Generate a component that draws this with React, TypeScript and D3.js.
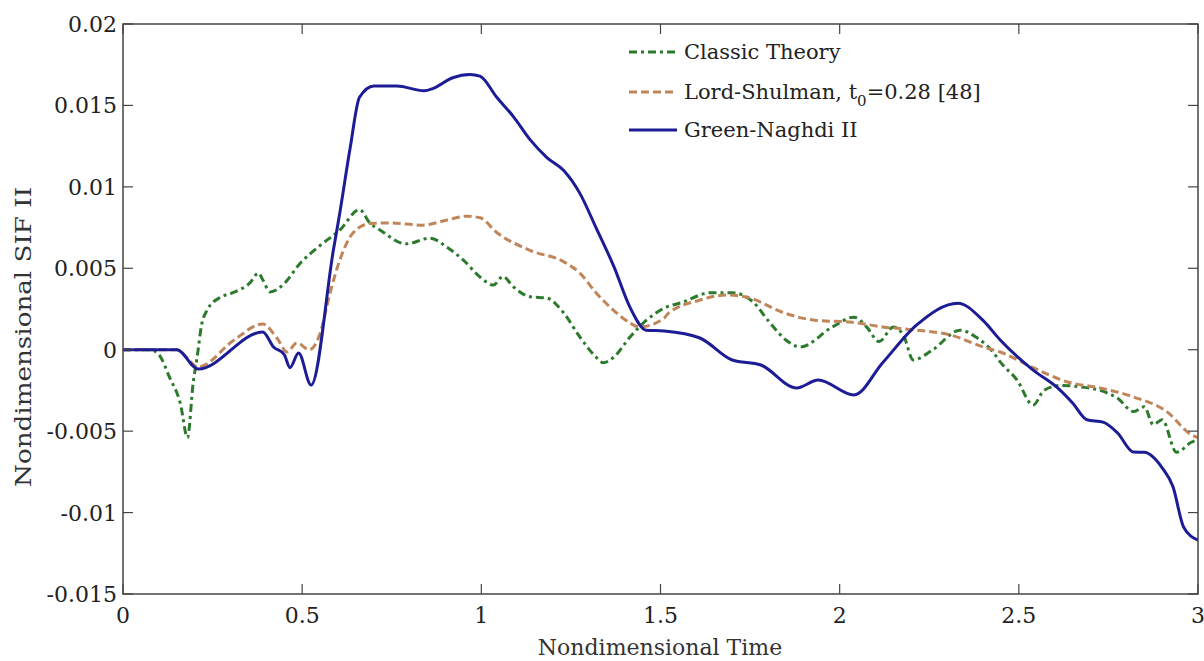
import React from "react";
import * as d3 from "d3";

const xTicks = [0, 0.5, 1, 1.5, 2, 2.5, 3];
const yTicks = [-0.015, -0.01, -0.005, 0, 0.005, 0.01, 0.015, 0.02];
const yTickLabels = ["-0.015", "-0.01", "-0.005", "0", "0.005", "0.01", "0.015", "0.02"];
const xTickLabels = ["0", "0.5", "1", "1.5", "2", "2.5", "3"];

// values in units of 1e-3
const classicT = [0, 0.075, 0.10, 0.13, 0.16, 0.18, 0.196, 0.206, 0.22, 0.234, 0.27, 0.307, 0.354, 0.378, 0.39, 0.41, 0.447, 0.494, 0.55, 0.605, 0.66, 0.69, 0.717, 0.79, 0.857, 0.904, 0.95, 0.997, 1.034, 1.06, 1.09, 1.136, 1.183, 1.23, 1.275, 1.32, 1.34, 1.37, 1.415, 1.46, 1.51, 1.56, 1.64, 1.70, 1.76, 1.80, 1.85, 1.89, 1.98, 2.04, 2.075, 2.11, 2.15, 2.18, 2.205, 2.26, 2.336, 2.38, 2.43, 2.448, 2.495, 2.54, 2.57, 2.615, 2.68, 2.727, 2.775, 2.82, 2.85, 2.875, 2.90, 2.94, 2.98, 3.0];
const classicV = [0, 0, -0.3, -1.7, -3.3, -5.4, -2.0, -0.6, 1.6, 2.4, 3.2, 3.5, 4.1, 4.7, 4.3, 3.55, 4.0, 5.3, 6.4, 7.35, 8.6, 7.75, 7.35, 6.5, 6.85, 6.3, 5.5, 4.45, 3.97, 4.5, 3.85, 3.25, 3.17, 2.25, 0.78, -0.45, -0.8, -0.45, 0.78, 1.8, 2.55, 2.9, 3.5, 3.5, 2.9, 1.8, 0.6, 0.17, 1.4, 2.0, 1.4, 0.5, 1.4, 0.78, -0.63, 0, 1.2, 0.78, -0.2, -0.75, -1.86, -3.4, -2.5, -2.2, -2.3, -2.5, -2.97, -3.8, -3.5, -4.6, -4.3, -6.3, -5.7, -5.5];

const lordT = [0, 0.15, 0.21, 0.31, 0.39, 0.43, 0.458, 0.485, 0.52, 0.55, 0.578, 0.605, 0.643, 0.69, 0.745, 0.837, 0.904, 0.96, 0.997, 1.043, 1.136, 1.23, 1.275, 1.32, 1.37, 1.415, 1.44, 1.51, 1.52, 1.61, 1.685, 1.75, 1.84, 1.935, 2.03, 2.12, 2.215, 2.31, 2.40, 2.448, 2.54, 2.634, 2.727, 2.82, 2.913, 2.98, 3.0];
const lordV = [0, 0, -1.06, 0.6, 1.58, 0.7, -0.14, 0.42, 0, 1.0, 3.5, 5.5, 7.2, 7.75, 7.78, 7.65, 7.96, 8.2, 8.1, 7.2, 6.1, 5.4, 4.7, 3.5, 2.4, 1.64, 1.4, 1.93, 2.2, 3.05, 3.36, 3.17, 2.3, 1.8, 1.7, 1.4, 1.2, 0.9, 0.17, -0.14, -1.1, -1.97, -2.35, -2.9, -3.8, -5.2, -5.4];

const greenT = [0, 0.15, 0.21, 0.39, 0.42, 0.45, 0.466, 0.49, 0.525, 0.587, 0.605, 0.634, 0.66, 0.70, 0.764, 0.84, 0.866, 0.92, 0.968, 0.996, 1.043, 1.09, 1.136, 1.183, 1.23, 1.275, 1.32, 1.37, 1.415, 1.46, 1.51, 1.61, 1.70, 1.78, 1.88, 1.94, 2.04, 2.12, 2.215, 2.33, 2.40, 2.448, 2.54, 2.606, 2.65, 2.69, 2.735, 2.775, 2.82, 2.85, 2.90, 2.93, 2.96, 3.0];
const greenV = [0, 0, -1.18, 1.09, 0.17, -0.3, -1.1, -0.2, -2.17, 6.1, 8.4, 12.4, 15.5, 16.2, 16.2, 15.9, 16.05, 16.7, 16.9, 16.8, 15.5, 14.3, 12.9, 11.8, 11.0, 9.6, 7.5, 5.1, 2.6, 1.2, 1.15, 0.72, -0.63, -0.94, -2.35, -1.86, -2.78, -0.8, 1.52, 2.86, 1.8, 0.6, -1.25, -2.3, -3.27, -4.3, -4.45, -5.1, -6.28, -6.3, -7.25, -8.4, -10.9, -11.7];

const series = [
  { name: "classic", t: classicT, v: classicV, color: "#2c7a2c", dash: "8,4,3,4" },
  { name: "lord", t: lordT, v: lordV, color: "#c0865a", dash: "8,4" },
  { name: "green", t: greenT, v: greenV, color: "#1c1c96", dash: "" },
];

const X0 = 123, X1 = 1198, Y0 = 24, Y1 = 594;
const FONT = "'DejaVu Serif', serif";

export default function App() {
  const x = d3.scaleLinear().domain([0, 3]).range([X0, X1]);
  const y = d3.scaleLinear().domain([-0.015, 0.02]).range([Y1, Y0]);
  const line = d3
    .line<[number, number]>()
    .x((d) => x(d[0]))
    .y((d) => y(d[1] / 1000))
    .curve(d3.curveMonotoneX);
  const legendRows = [
    { s: series[0], y: 52 },
    { s: series[1], y: 92 },
    { s: series[2], y: 130 },
  ];
  return (
    <svg width={1204} height={661} style={{ position: "absolute", left: 0, top: 0, background: "#fff" }}>
      <rect x={0} y={0} width={1204} height={661} fill="#fff" />
      <defs>
        <clipPath id="plot">
          <rect x={X0} y={Y0} width={X1 - X0} height={Y1 - Y0} />
        </clipPath>
      </defs>
      <g clipPath="url(#plot)">
        {series.map((s) => (
          <path
            key={s.name}
            d={line(s.t.map((t, i) => [t, s.v[i]] as [number, number])) || ""}
            fill="none"
            stroke={s.color}
            strokeWidth={3}
            strokeDasharray={s.dash || undefined}
            strokeLinejoin="round"
          />
        ))}
      </g>
      {/* legend */}
      <rect x={622} y={34} width={300} height={110} fill="#fff" />
      {legendRows.map((r) => (
        <line key={r.s.name} x1={629} x2={677} y1={r.y} y2={r.y} stroke={r.s.color} strokeWidth={3} strokeDasharray={r.s.dash || undefined} />
      ))}
      <g fontFamily={FONT} fontSize={21} fill="#222">
        <text x={684} y={59}>Classic Theory</text>
        <text x={684} y={99}>
          Lord-Shulman, t<tspan fontSize={15} dy={7}>0</tspan>
          <tspan dy={-7}>=0.28 [48]</tspan>
        </text>
        <text x={684} y={137}>Green-Naghdi II</text>
      </g>
      {/* frame */}
      <rect x={X0} y={Y0} width={X1 - X0} height={Y1 - Y0} fill="none" stroke="#444" strokeWidth={1.5} />
      {xTicks.map((t, i) => (
        <g key={"xt" + i}>
          <line x1={x(t)} x2={x(t)} y1={Y1} y2={Y1 - 10} stroke="#444" strokeWidth={1.2} />
          <line x1={x(t)} x2={x(t)} y1={Y0} y2={Y0 + 10} stroke="#444" strokeWidth={1.2} />
          <text x={x(t)} y={623} textAnchor="middle" fontFamily={FONT} fontSize={22} fill="#222">
            {xTickLabels[i]}
          </text>
        </g>
      ))}
      {yTicks.map((v, i) => (
        <g key={"yt" + i}>
          <line x1={X0} x2={X0 + 10} y1={y(v)} y2={y(v)} stroke="#444" strokeWidth={1.2} />
          <line x1={X1} x2={X1 - 10} y1={y(v)} y2={y(v)} stroke="#444" strokeWidth={1.2} />
          <text x={117} y={y(v) + 8} textAnchor="end" fontFamily={FONT} fontSize={22} fill="#222">
            {yTickLabels[i]}
          </text>
        </g>
      ))}
      <text x={660} y={655} textAnchor="middle" fontFamily={FONT} fontSize={22} fill="#333">
        Nondimensional Time
      </text>
      <text
        transform="translate(31,337) rotate(-90)"
        textAnchor="middle"
        fontFamily={FONT}
        fontSize={22}
        fill="#333"
        textLength={300}
        lengthAdjust="spacingAndGlyphs"
      >
        Nondimensional SIF II
      </text>
    </svg>
  );
}
